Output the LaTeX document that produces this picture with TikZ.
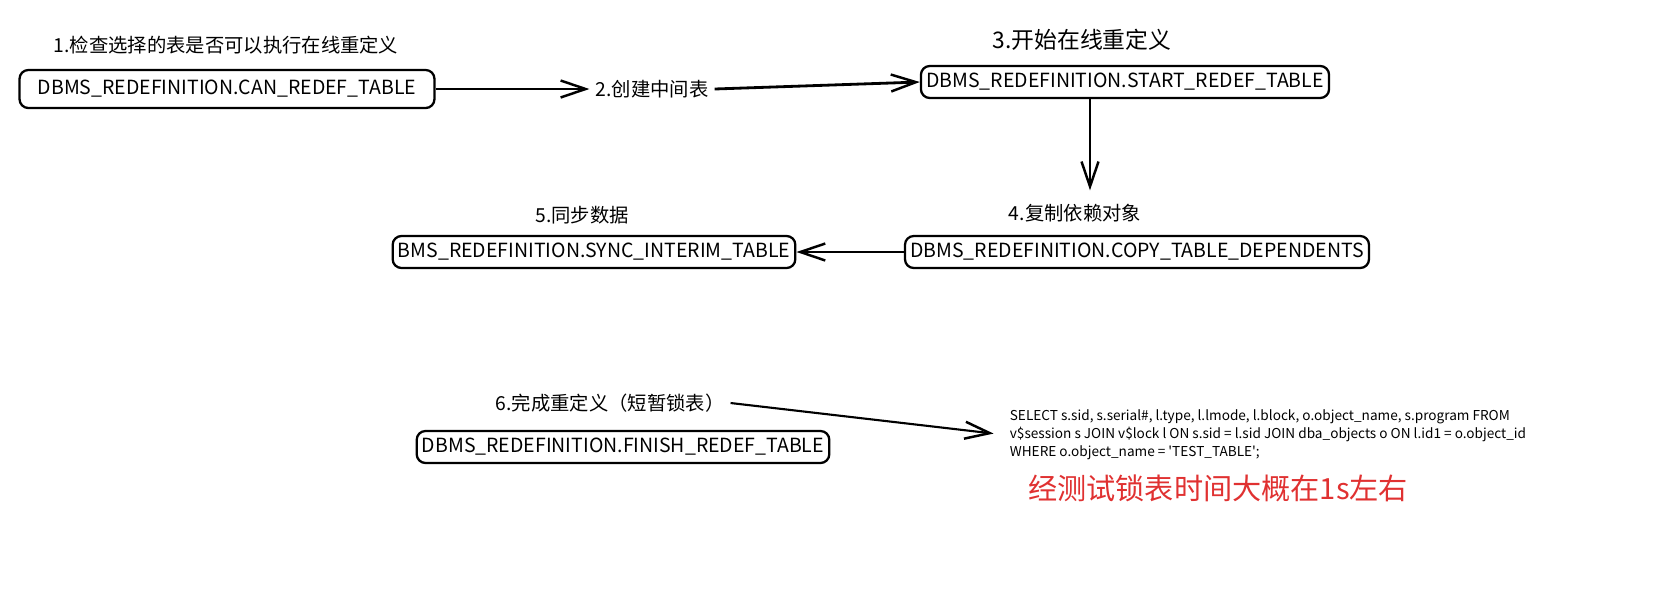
\documentclass[tikz,border=0pt]{standalone}
\usepackage{fontspec}
\setmainfont{Noto Sans CJK SC}
\newfontfamily\sqlfont{Noto Sans CJK SC}[Ligatures=TeXOff]
\usetikzlibrary{arrows.meta}
\definecolor{locknote}{HTML}{E03131}

\begin{document}
\begin{tikzpicture}[x=0.02cm,y=-0.02cm,
    fnbox/.style={draw,line width=1.3pt,rounded corners=5pt,minimum height=0.64cm,inner xsep=3pt,font=\fontsize{11.1}{12}\selectfont},
    steplabel/.style={font=\fontsize{11}{12}\selectfont},
    arr/.style={line width=1.6pt,-{Straight Barb[length=5mm,width=3.4mm,line width=1.4pt]}}]
                \useasboundingbox (0,0) rectangle (1668,610);

                % boxes
                \node[fnbox,minimum width=8.3cm,minimum height=0.76cm] (b1) at (227,89) {DBMS\_REDEFINITION.CAN\_REDEF\_TABLE};
                \node[fnbox] (b3) at (1125,82) {DBMS\_REDEFINITION.START\_REDEF\_TABLE};
                \node[fnbox] (b4) at (1137,252) {DBMS\_REDEFINITION.COPY\_TABLE\_DEPENDENTS};
                \node[fnbox] (b5) at (594,252) {BMS\_REDEFINITION.SYNC\_INTERIM\_TABLE};
                \node[fnbox] (b6) at (623,447) {DBMS\_REDEFINITION.FINISH\_REDEF\_TABLE};

                % labels
                \node[steplabel] (l1) at (226,45) {1.检查选择的表是否可以执行在线重定义};
                \node[steplabel] (l2) at (652,89) {2.创建中间表};
                \node[font=\fontsize{13}{15}\selectfont] (l3) at (1082,40) {3.开始在线重定义};
                \node[steplabel] (l4) at (1075,213) {4.复制依赖对象};
                \node[steplabel] (l5) at (582,215) {5.同步数据};
                \node[steplabel] (l6) at (610,403) {6.完成重定义（短暂锁表）};

                \node[anchor=west,align=left,inner sep=2pt,font=\sqlfont\fontsize{7.75}{10.2}\selectfont] (sql) at (1006,435) {SELECT s.sid, s.serial\#, l.type, l.lmode, l.block, o.object\_name, s.program FROM\\v\$session s JOIN v\$lock l ON s.sid = l.sid JOIN dba\_objects o ON l.id1 = o.object\_id\\WHERE o.object\_name = 'TEST\_TABLE';};
                \node[anchor=west,text=locknote,font=\fontsize{16.6}{18}\selectfont] (note) at (1022,488) {经测试锁表时间大概在1s左右};

                % connectors
                \draw[arr] (b1.east) -- (l2.west);
                \draw[arr] (l2.east) -- (b3.west);
                \draw[arr] ([xshift=-0.7cm]b3.south) -- ([xshift=-0.7cm,yshift=0.15cm]b3.south |- l4.north);
                \draw[arr] (b4.west) -- (b5.east);
                \draw[arr,line width=1.2pt,shorten >=0.25cm] (l6.east) -- (sql.west);
\end{tikzpicture}
\end{document}
